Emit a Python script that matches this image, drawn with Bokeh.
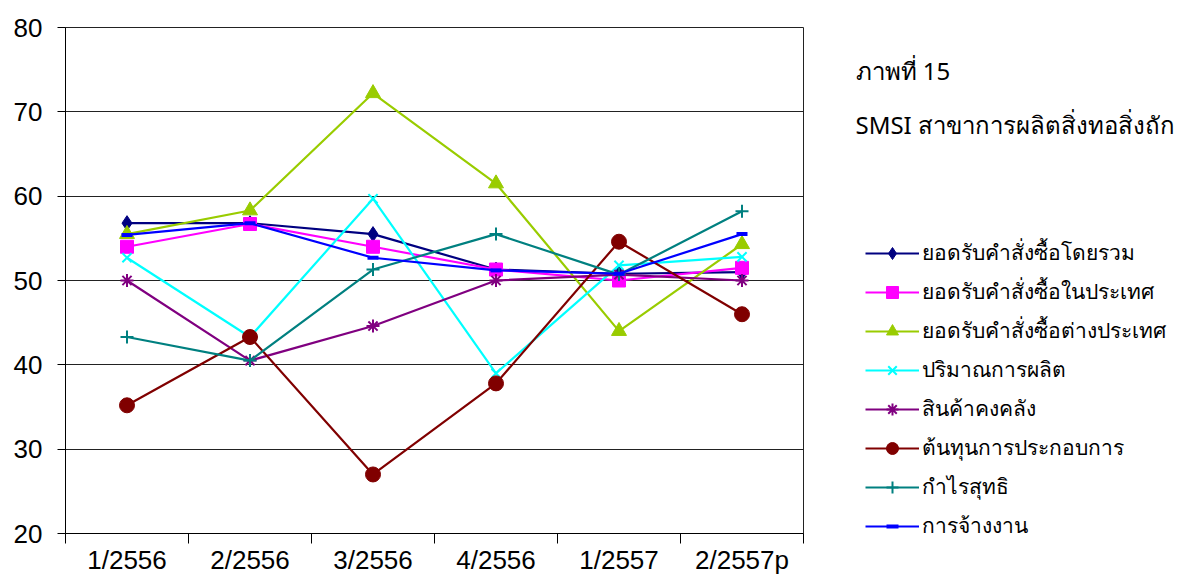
from bokeh.plotting import figure
from bokeh.models import Range1d, FixedTicker, Legend, LegendItem, Label
from bokeh.layouts import row
from bokeh.embed import file_html
from bokeh.resources import INLINE

categories = ["1/2556", "2/2556", "3/2556", "4/2556", "1/2557", "2/2557p"]
y_ticks = [20, 30, 40, 50, 60, 70, 80]

names = [
    "ยอดรับคำสั่งซื้อโดยรวม",
    "ยอดรับคำสั่งซื้อในประเทศ",
    "ยอดรับคำสั่งซื้อต่างประเทศ",
    "ปริมาณการผลิต",
    "สินค้าคงคลัง",
    "ต้นทุนการประกอบการ",
    "กำไรสุทธิ",
    "การจ้างงาน",
]
total_orders = [56.8, 56.8, 55.5, 51.3, 50.8, 51.0]
domestic_orders = [54.0, 56.7, 54.0, 51.3, 50.0, 51.5]
export_orders = [55.5, 58.3, 72.2, 61.5, 44.0, 54.3]
production = [52.7, 43.3, 59.7, 39.0, 51.8, 52.8]
inventory = [50.0, 40.5, 44.6, 50.0, 50.7, 50.0]
op_cost = [35.2, 43.3, 27.0, 37.8, 54.6, 46.0]
net_profit = [43.3, 40.5, 51.3, 55.5, 50.7, 58.2]
employment = [55.4, 56.8, 52.7, 51.2, 50.8, 55.5]

title1 = "ภาพที่ 15"
title2 = "SMSI สาขาการผลิตสิ่งทอสิ่งถัก"

series = [total_orders, domestic_orders, export_orders, production,
          inventory, op_cost, net_profit, employment]
colors = ["#000080", "#FF00FF", "#99CC00", "#00FFFF",
          "#800080", "#800000", "#008080", "#0000FF"]
markers = ["diamond", "square", "triangle", "x", "asterisk", "circle", "cross", "dash"]
sizes = [15, 13, 15, 13, 13, 15, 13, 11]

centers = [i + 0.5 for i in range(len(categories))]
bounds = list(range(len(categories) + 1))

H = 577

# ---------------- main chart ----------------
p = figure(width=808, height=H, output_backend="svg", toolbar_location=None,
           x_range=Range1d(0, len(categories)), y_range=Range1d(y_ticks[0], y_ticks[-1]),
           min_border_left=65, min_border_right=5, min_border_top=27, min_border_bottom=30)
p.frame_align = False

p.background_fill_color = "white"
p.border_fill_color = "white"
p.outline_line_color = "#222222"
p.outline_line_width = 1

p.xgrid.visible = False
p.ygrid.grid_line_color = "#222222"
p.ygrid.grid_line_width = 1

p.xaxis.ticker = FixedTicker(ticks=centers, minor_ticks=bounds)
p.xaxis.major_label_overrides = {c: lab for c, lab in zip(centers, categories)}
p.xaxis.minor_tick_line_color = "black"
p.xaxis.minor_tick_out = 10
p.xaxis.minor_tick_in = 0
p.xaxis.major_tick_out = 0
p.xaxis.major_tick_in = 0
p.xaxis.major_label_standoff = 1

p.yaxis.ticker = FixedTicker(ticks=y_ticks)
p.yaxis.minor_tick_line_color = None
p.yaxis.major_tick_out = 8
p.yaxis.major_tick_in = 0
p.yaxis.major_label_standoff = 15

for ax in (p.xaxis[0], p.yaxis[0]):
    ax.axis_line_color = "black"
    ax.major_label_text_font = "Liberation Sans"
    ax.major_label_text_font_size = "26px"
    ax.major_label_text_color = "black"
p.xaxis.major_tick_line_color = None
p.yaxis.major_tick_line_color = "black"


def draw(fig, vals, col, mk, sz):
    lr = fig.line(centers, vals, line_color=col, line_width=2.2)
    lw = 2 if mk in ("x", "asterisk", "cross") else (4 if mk == "dash" else 1)
    sr = fig.scatter(centers, vals, marker=mk, size=sz, fill_color=col,
                     line_color=col, line_width=lw)
    return lr, sr


for vals, col, mk, sz in zip(series, colors, markers, sizes):
    draw(p, vals, col, mk, sz)

# ---------------- side panel: titles + legend ----------------
q = figure(width=388, height=H, output_backend="svg", toolbar_location=None,
           x_range=Range1d(-10, -9), y_range=Range1d(-10, -9),
           min_border=0, min_border_left=0, min_border_right=0,
           min_border_top=0, min_border_bottom=0)
q.frame_align = False
q.axis.visible = False
q.grid.visible = False
q.outline_line_color = None
q.background_fill_color = "white"
q.border_fill_color = "white"

items = []
for name, vals, col, mk, sz in zip(names, series, colors, markers, sizes):
    lr, sr = draw(q, vals, col, mk, sz)
    items.append(LegendItem(label=name, renderers=[lr, sr]))

legend = Legend(items=items, location=(57, 35), orientation="vertical",
                border_line_color=None, background_fill_alpha=0,
                label_text_font="Noto Sans", label_text_font_size="21px",
                label_text_color="black",
                glyph_width=54, glyph_height=30, label_height=30,
                spacing=6, padding=0, margin=0, label_standoff=3)
q.add_layout(legend, "center")

q.add_layout(Label(x=47, y=H - 70, x_units="screen", y_units="screen", text=title1,
                   text_font="Noto Sans", text_font_size="24px",
                   text_baseline="middle", text_color="black"))
q.add_layout(Label(x=47, y=H - 124, x_units="screen", y_units="screen", text=title2,
                   text_font="Noto Sans", text_font_size="24px",
                   text_baseline="middle", text_color="black"))

layout = row(p, q)
open("out.html", "w").write(file_html(layout, INLINE))
